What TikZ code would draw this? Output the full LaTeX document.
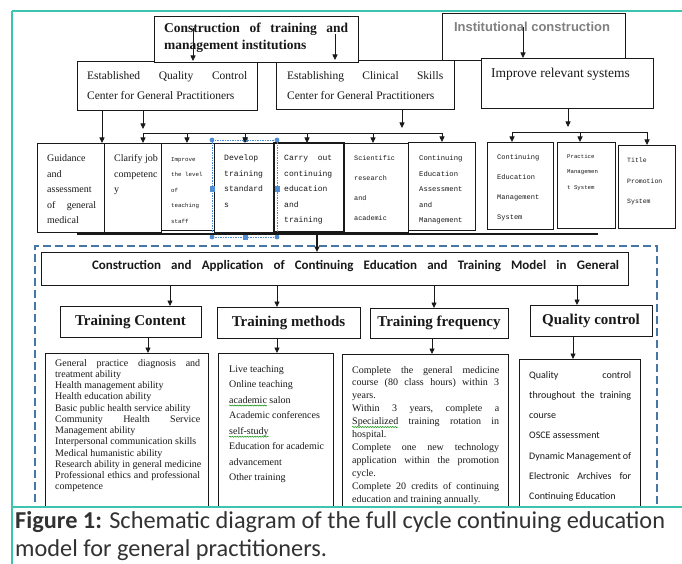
\documentclass[tikz,border=0pt]{standalone}
\usepackage{fontspec}
\setmainfont{Liberation Serif}
\newfontfamily\monof{Liberation Mono}
\newfontfamily\calf{Carlito}
\newfontfamily\arlf{Liberation Sans}
\usetikzlibrary{arrows.meta,decorations.pathmorphing}
\definecolor{teal1}{RGB}{60,196,176}
\definecolor{dblue}{RGB}{70,118,165}
\definecolor{hblue}{RGB}{80,140,210}
\definecolor{ink}{RGB}{25,25,25}
\definecolor{gray2}{RGB}{128,128,128}
\definecolor{capgray}{RGB}{50,50,50}
\newcommand{\ml}[2]{\vtop{\baselineskip=#1\relax\lineskiplimit=-100pt\relax\lineskip=0pt\relax\halign{##\hfil\cr#2\crcr}}}
\newcommand{\fs}[1]{\fontsize{#1}{#1}\selectfont}
\newcommand{\bx}[6][]{\node[box,#1,minimum width={(#4-#2)*1pt},minimum height={(#5-#3)*1pt}] (#6) at (#2,#3) {};}
\begin{document}
\begin{tikzpicture}[x=1pt,y=-1pt,
  box/.style={draw=ink, line width=0.8pt, fill=white, inner sep=0pt, outer sep=0pt, anchor=north west},
  txt/.style={anchor=base west, inner sep=0pt, text=ink},
  arr/.style={draw=ink, line width=0.8pt, -{Triangle[length=5.5pt,width=5pt]}},
  bus/.style={draw=ink, line width=0.8pt},
  squig/.style={draw=green!55!black, line width=0.5pt, decorate, decoration={snake, amplitude=0.6pt, segment length=2.5pt}}]
\useasboundingbox (0,0) rectangle (682,564);
\fill[white] (0,0) rectangle (682,564);
\begin{scope}
\clip (0,0) rectangle (682,507);
% ---------- top level ----------
\bx{77}{61}{257}{110}{qc}
\bx{276}{60}{454}{109}{cs}
\bx{154}{16}{358}{62}{cti}
\bx{442}{13}{625}{60}{inst}
\bx{481}{58}{653}{108}{irs}
\node[txt,font=\bfseries\fs{13.5}] (ctit) at (164,33) {\ml{16.5pt}{\hbox to 184pt{Construction\hfill of\hfill training\hfill and}\cr management institutions}};
\node[txt,font=\fs{11.5}] (qct) at (87,80) {\ml{20pt}{\hbox to 160pt{Established\hfill Quality\hfill Control}\cr Center for General Practitioners}};
\node[txt,font=\fs{11.5}] (cst) at (287,80) {\ml{20pt}{\hbox to 156pt{Establishing\hfill Clinical\hfill Skills}\cr Center for General Practitioners}};
\node[anchor=base, inner sep=0pt, text=gray2, font=\arlf\bfseries\fs{13}] (instt) at (532,32) {Institutional construction};
\node[txt,font=\fs{13.5}] (irst) at (491,78) {Improve relevant systems};
\coordinate (a1) at (193,28);
\coordinate (a2) at (335,34);
\coordinate (a3) at (523,27);
\draw[arr] (a1) -- (qc.north -| a1);
\draw[arr] (a2) -- (cs.north -| a2);
\draw[arr] (a3) -- (irs.north -| a3);
% ---------- row of boxes ----------
\bx{37}{143}{104}{232}{r1}
\bx{104}{143}{161}{232}{r2}
\bx{161}{143}{214}{230}{r3}
\bx{214}{143}{274}{232}{r4}
\bx[line width=1.3pt]{274}{143}{344}{232}{r5}
\bx{344}{143}{408}{232}{r6}
\bx{408}{142}{475}{230}{r7}
\bx{487}{142}{553}{229}{r8}
\bx{557}{142}{615}{228}{r9}
\bx{618}{145}{675}{228}{r10}
\node[txt,font=\fs{10}] (r1t) at (47,162) {\ml{15.5pt}{Guidance\cr and\cr assessment\cr \hbox to 49pt{of\hfill general}\cr medical}};
\node[txt,font=\fs{10}] (r2t) at (114,162) {\ml{15.5pt}{Clarify job\cr competenc\cr y}};
\node[txt,font=\monof\fs{5.8}] (r3t) at (171,161.5) {\ml{15.5pt}{Improve\cr the level\cr of\cr teaching\cr staff}};
\node[txt,font=\monof\fs{8.1}] (r4t) at (224,161) {\ml{15.5pt}{Develop\cr training\cr standard\cr s}};
\node[txt,font=\monof\fs{8}] (r5t) at (284,161) {\ml{15.5pt}{\hbox to 48pt{Carry\hfill out}\cr continuing\cr education\cr and\cr training}};
\node[txt,font=\monof\fs{6.8}] (r6t) at (354,160.5) {\ml{20pt}{Scientific\cr research\cr and\cr academic}};
\node[txt,font=\monof\fs{7.2}] (r7t) at (419,161) {\ml{15.5pt}{Continuing\cr Education\cr Assessment\cr and\cr Management}};
\node[txt,font=\monof\fs{7}] (r8t) at (497,160) {\ml{20pt}{Continuing\cr Education\cr Management\cr System}};
\node[txt,font=\monof\fs{5.7}] (r9t) at (567,158.5) {\ml{15.5pt}{Practice\cr Managemen\cr t System}};
\node[txt,font=\monof\fs{6.5}] (r10t) at (627,163) {\ml{20.5pt}{Title\cr Promotion\cr System}};
% selection handles around "Develop training standards"
\draw[hblue, line width=0.5pt, dash pattern=on 1.5pt off 1pt] (212,140) rectangle (277,237);
\foreach \p in {(212,140),(277,140),(212,237),(277,237)} \fill[hblue] \p circle (2.4pt);
\fill[hblue] (242.5,137.5) rectangle (247.5,142.5);
\fill[hblue] (242.5,234.5) rectangle (247.5,239.5);
\fill[hblue] (209.5,186.5) rectangle (214.5,191.5);
\fill[hblue] (274.5,186.5) rectangle (279.5,191.5);
% buses
\coordinate (bL) at (143,133);
\coordinate (bR) at (442,133);
\coordinate (bLa) at (143,129);
\coordinate (cSa) at (402,128);
\coordinate (cL) at (512,132);
\coordinate (cR) at (647,132);
\coordinate (cMa) at (568,127);
\coordinate (x102) at (102,0);
\coordinate (x187) at (187,0);
\coordinate (x245) at (245,0);
\coordinate (x307) at (307,0);
\coordinate (x373) at (373,0);
\coordinate (x580) at (580,0);
\draw[bus] (bL) -- (bR);
\draw[bus] (cL) -- (cR);
\draw[arr] (qc.south -| x102) -- (r1.north -| x102);
\draw[arr] (qc.south -| bLa) -- (bLa);
\draw[arr] (cs.south -| cSa) -- (cSa);
\draw[arr] (bL) -- (r2.north -| bL);
\draw[arr] (bL -| x187) -- (r3.north -| x187);
\draw[arr] (bL -| x245) -- (r4.north -| x245);
\draw[arr] (bL -| x307) -- (r5.north -| x307);
\draw[arr] (bL -| x373) -- (r6.north -| x373);
\draw[arr] (bR) -- (r7.north -| bR);
\draw[arr] (irs.south -| cMa) -- (cMa);
\draw[arr] (cL) -- (r8.north -| cL);
\draw[arr] (cL -| x580) -- (r9.north -| x580);
\draw[arr] (cR) -- (r10.north -| cR);
% thick line under the row
\coordinate (thL) at (77,234);
\coordinate (thR) at (598,234);
\coordinate (x317) at (317,0);
\draw[line width=2.2pt, draw=ink] (thL) -- (thR);
% ---------- dashed frame ----------
\bx[draw=dblue, line width=2.2pt, dash pattern=on 8pt off 4pt, fill=none]{35}{246}{657}{530}{frame}
\bx{41}{252}{628}{285}{cap}
\node[anchor=base, inner sep=0pt, font=\calf\bfseries\fs{13}, text=ink] (capt) at (355.5,269) {\hbox to 527pt{Construction\hfill and\hfill Application\hfill of\hfill Continuing\hfill Education\hfill and\hfill Training\hfill Model\hfill in\hfill General}};
\draw[arr, line width=2pt] (thL -| x317) -- (cap.north -| x317);
% headings
\bx{60}{306}{201}{337}{tc}
\bx{217}{307}{360}{338}{tm}
\bx{370}{308}{508}{338}{tf}
\bx{530}{305}{652}{336}{tq}
\node[inner sep=0pt, font=\bfseries\fs{15}, text=ink] (tct) at (tc) {Training Content};
\node[inner sep=0pt, font=\bfseries\fs{15}, text=ink] (tmt) at (tm) {Training methods};
\node[inner sep=0pt, font=\bfseries\fs{15}, text=ink] (tft) at (tf) {Training frequency};
\node[inner sep=0pt, font=\bfseries\fs{15}, text=ink] (tqt) at (tq) {Quality control};
\coordinate (x170) at (170,0);
\coordinate (x277) at (277,0);
\coordinate (x434) at (434,0);
\coordinate (x577) at (577,0);
\coordinate (x148) at (148,0);
\coordinate (x432) at (432,0);
\coordinate (x573) at (573,0);
\draw[arr] (cap.south -| x170) -- (tc.north -| x170);
\draw[arr] (cap.south -| x277) -- (tm.north -| x277);
\draw[arr] (cap.south -| x434) -- (tf.north -| x434);
\draw[arr] (cap.south -| x577) -- (tq.north -| x577);
% bottom boxes
\bx{45}{353}{208}{530}{bc}
\bx{218}{353}{333}{530}{bm}
\bx{342}{354}{508}{530}{bf}
\bx{519}{359}{640}{530}{bq}
\draw[arr] (tc.south -| x148) -- (bc.north -| x148);
\draw[arr] (tm.south -| x277) -- (bm.north -| x277);
\draw[arr] (tf.south -| x432) -- (bf.north -| x432);
\draw[arr] (tq.south -| x573) -- (bq.north -| x573);
\node[txt,font=\fs{10}] (bct) at (55,366) {\ml{11.27pt}{\hbox to 145pt{General\hfill practice\hfill diagnosis\hfill and}\cr treatment ability\cr Health management ability\cr Health education ability\cr Basic public health service ability\cr \hbox to 145pt{Community\hfill Health\hfill Service}\cr Management ability\cr Interpersonal communication skills\cr Medical humanistic ability\cr Research ability in general medicine\cr \hbox to 145pt{Professional\hfill ethics\hfill and\hfill professional}\cr competence}};
\node[txt,font=\fs{10}] (bmt) at (229,372) {\ml{15.57pt}{Live teaching\cr Online teaching\cr academic salon\cr Academic conferences\cr self-study\cr Education for academic\cr advancement\cr Other training}};
\node[txt,font=\fs{10}] (bft) at (352,373) {\ml{12.9pt}{\hbox to 147pt{Complete\hfill the\hfill general\hfill medicine}\cr \hbox to 147pt{course\hfill (80\hfill class\hfill hours)\hfill within\hfill 3}\cr years.\cr \hbox to 147pt{Within\hfill 3\hfill years,\hfill complete\hfill a}\cr \hbox to 147pt{Specialized\hfill training\hfill rotation\hfill in}\cr hospital.\cr \hbox to 147pt{Complete\hfill one\hfill new\hfill technology}\cr \hbox to 147pt{application\hfill within\hfill the\hfill promotion}\cr cycle.\cr \hbox to 147pt{Complete\hfill 20\hfill credits\hfill of\hfill continuing}\cr education and training annually.}};
\node[txt,font=\calf\fs{10}] (bqt) at (529,378) {\ml{20.3pt}{\hbox to 102pt{Quality\hfill control}\cr \hbox to 102pt{throughout\hfill the\hfill training}\cr course\cr OSCE assessment\cr \hbox to 102pt{Dynamic\hfill Management\hfill of}\cr \hbox to 102pt{Electronic\hfill Archives\hfill for}\cr Continuing Education}};
\draw[squig] (229,405.5) -- (267,405.5);
\draw[squig] (229,436.7) -- (268.5,436.7);
\draw[squig] (352,427) -- (398,427);
\end{scope}
% ---------- page frame & caption ----------
\draw[teal1, line width=1.5pt] (12,11) -- (682,11);
\draw[teal1, line width=1.5pt] (12,11) -- (12,564);
\draw[teal1, line width=1.5pt] (12,507) -- (682,507);
\node[txt, font=\calf\fs{24.3}, text=capgray] (cap1) at (15,528) {\textbf{Figure 1:} Schematic diagram of the full cycle continuing education};
\node[txt, font=\calf\fs{24.3}, text=capgray] (cap2) at (15,556) {model for general practitioners.};
\end{tikzpicture}
\end{document}
